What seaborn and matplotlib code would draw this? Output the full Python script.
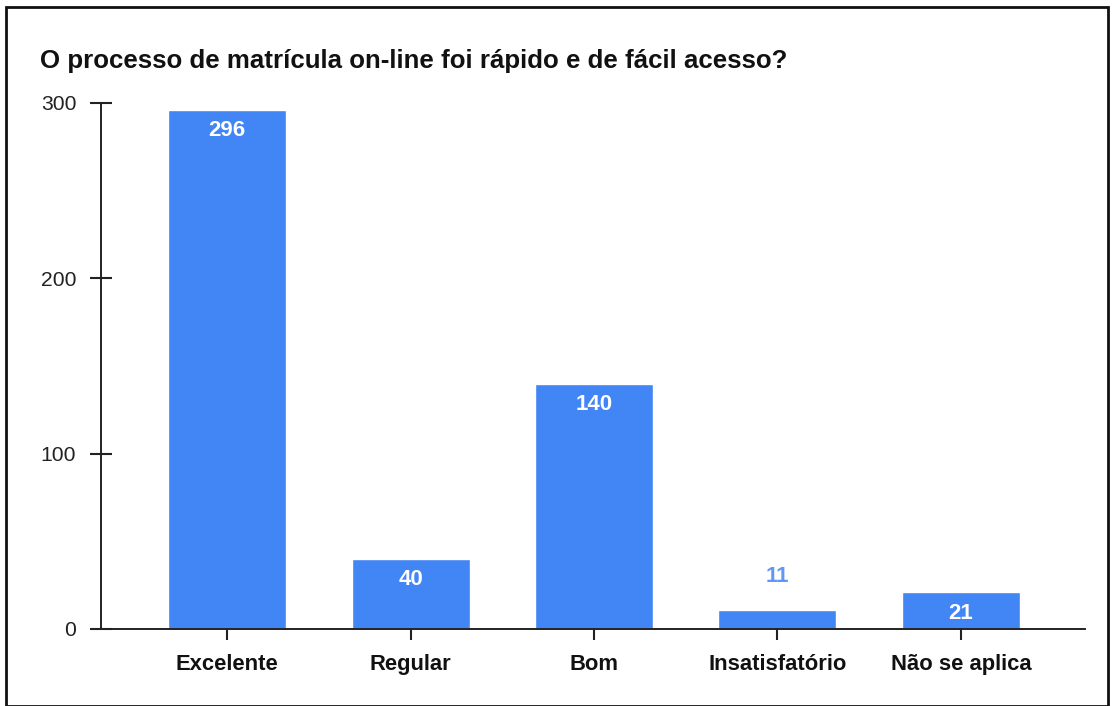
import matplotlib
matplotlib.use("Agg")
import matplotlib.pyplot as plt
import seaborn as sns
import pandas as pd
from matplotlib.patches import Rectangle

categories = ["Excelente", "Regular", "Bom", "Insatisfatório", "Não se aplica"]
values = [296, 40, 140, 11, 21]
title = "O processo de matrícula on-line foi rápido e de fácil acesso?"
yticks = [0, 100, 200, 300]

sns.set_style("white")
plt.rcParams['font.family'] = ['Liberation Sans', 'DejaVu Sans']

BLUE = "#4285F4"
AX = "#222222"

fig = plt.figure(figsize=(11.14, 7.06), dpi=100)
ax = fig.add_axes([101/1114, 1-629/706, (1085-101)/1114, (629-103)/706])

df = pd.DataFrame({"cat": categories, "val": values})
sns.barplot(data=df, x="cat", y="val", color=BLUE, saturation=1, width=0.643, ax=ax)

ax.set_xlim(-0.687, 4.676)
ax.set_ylim(0, 300)
ax.set_yticks(yticks)
ax.set_xlabel("")
ax.set_ylabel("")

for s in ["top", "right"]:
    ax.spines[s].set_visible(False)
for s in ["left", "bottom"]:
    ax.spines[s].set_color(AX)
    ax.spines[s].set_linewidth(1.4)

ax.tick_params(axis="y", left=True, direction="inout", length=15.5, width=1.5, color=AX,
               labelsize=15.2, labelcolor="#222222", pad=10)
ax.tick_params(axis="x", bottom=True, direction="inout", length=15.5, width=1.5, color=AX,
               labelsize=15.8, labelcolor="#111111", pad=10)
for lab in ax.get_xticklabels():
    lab.set_fontweight("bold")

for i, v in enumerate(values):
    if v >= 20:
        ax.annotate(str(v), (i, v), xytext=(0, -15), textcoords="offset points",
                    ha="center", va="center", color="white", fontsize=16, fontweight="bold")
    else:
        ax.annotate(str(v), (i, v), xytext=(0, 24), textcoords="offset points",
                    ha="center", va="center", color="#5E97F6", fontsize=16, fontweight="bold")

fig.text(40/1114, 1-61/706, title, ha="left", va="center", fontsize=18.6,
         fontweight="bold", color="#111111")

fig.patches.append(Rectangle((6/1114, 0.5/706), (1108-6)/1114, (706-7.5)/706,
                             transform=fig.transFigure, fill=False, edgecolor="#111111",
                             linewidth=2))

fig.savefig("out.png", dpi=100)
